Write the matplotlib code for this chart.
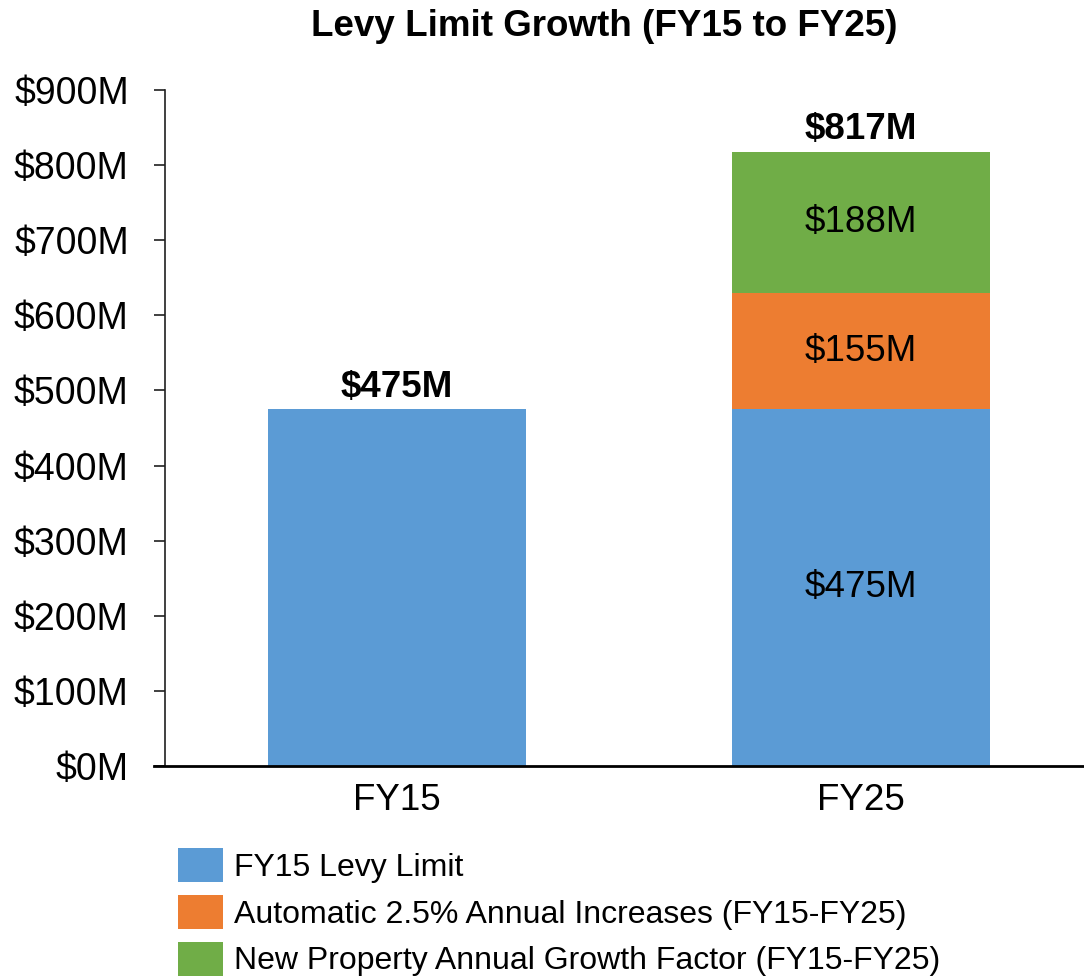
import matplotlib
matplotlib.use("Agg")
import matplotlib.pyplot as plt
from matplotlib.patches import Patch

categories = ["FY15", "FY25"]
base = [475, 475]
auto_inc = [0, 155]
new_prop = [0, 188]
total_labels = ["$475M", "$817M"]
series_names = ["FY15 Levy Limit",
                "Automatic 2.5% Annual Increases (FY15-FY25)",
                "New Property Annual Growth Factor (FY15-FY25)"]
colors = ["#5B9BD5", "#ED7D31", "#70AD47"]
yticks = list(range(0, 901, 100))

plt.rcParams['font.family'] = ['Liberation Sans', 'DejaVu Sans']

fig = plt.figure(figsize=(10.84, 9.77), dpi=100)
ax = fig.add_axes([165/1084, 1-766/977, (1093-165)/1084, (766-90)/977])

x = list(range(len(categories)))
w = 0.556
ax.bar(x, base, width=w, color=colors[0], zorder=2)
ax.bar(x, auto_inc, width=w, bottom=base, color=colors[1], zorder=2)
bottoms2 = [a + b for a, b in zip(base, auto_inc)]
ax.bar(x, new_prop, width=w, bottom=bottoms2, color=colors[2], zorder=2)

# segment labels for stacked bar
i = 1
fs_lab = 26.5
ax.text(i, base[i] / 2, f"${base[i]}M", ha="center", va="center", fontsize=fs_lab)
ax.text(i, base[i] + auto_inc[i] / 2, f"${auto_inc[i]}M", ha="center", va="center", fontsize=fs_lab)
ax.text(i, bottoms2[i] + new_prop[i] / 2, f"${new_prop[i]}M", ha="center", va="center", fontsize=fs_lab)

tops = [a + b + c for a, b, c in zip(base, auto_inc, new_prop)]
for xi, t, lab in zip(x, tops, total_labels):
    ax.text(xi, t + 6, lab, ha="center", va="bottom", fontsize=fs_lab, fontweight="bold")

ax.set_xlim(-0.5, 1.5)
ax.set_ylim(0, 900)
ax.set_yticks(yticks)
ax.set_yticklabels([f"${v}M" for v in yticks], fontsize=27)
ax.set_xticks(x)
ax.set_xticklabels(categories, fontsize=26.5)
ax.tick_params(axis="x", length=0, pad=12)
ax.tick_params(axis="y", length=8, width=1.2, pad=18, direction="out", color="#202020")
for s in ["top", "right"]:
    ax.spines[s].set_visible(False)
ax.spines["left"].set_color("#202020")
ax.spines["left"].set_linewidth(1.2)
ax.spines["bottom"].set_color("black")
ax.spines["bottom"].set_linewidth(2)
ax.spines["bottom"].set_bounds(-0.5 - 11/464, 1.5)

fig.text(604/1084, 1-27/977, "Levy Limit Growth (FY15 to FY25)", ha="center", va="center",
         fontsize=26.5, fontweight="bold")

handles = [Patch(facecolor=c) for c in colors]
fig.legend(handles, series_names, loc="upper left", bbox_to_anchor=(178/1084, 1-848/977),
           frameon=False, fontsize=23, handlelength=1.4, handleheight=1.26,
           labelspacing=0.38, handletextpad=0.35, borderaxespad=0, borderpad=0)

fig.savefig("out.png", dpi=100)
